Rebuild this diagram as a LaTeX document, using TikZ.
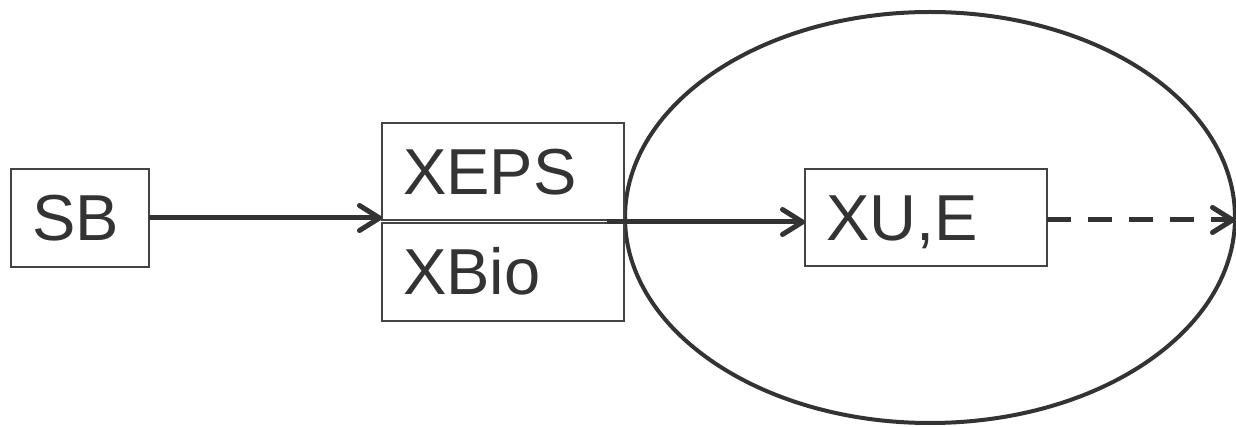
\documentclass[tikz,border=0pt]{standalone}
\usepackage{fontspec}
\setmainfont{Liberation Sans}
\usetikzlibrary{arrows.meta,shapes.geometric}
\definecolor{ink}{HTML}{333333}
\definecolor{frame}{HTML}{444444}
\tikzset{
  labelbox/.style={draw=frame, line width=1.3pt, rectangle, anchor=north west,
    outer sep=0pt, inner xsep=21pt, inner ysep=0pt, align=left,
    text width=#1, text height=46pt, text depth=0pt, text=ink,
    font=\fontsize{65}{65}\selectfont},
  barb/.style={-{Straight Barb[length=20pt,width=25pt,line cap=round,line join=round]}},
  flow/.style={draw=ink, line width=5pt, barb},
  flowdash/.style={flow, dash pattern=on 24pt off 17pt},
}
\begin{document}
\begin{tikzpicture}[x=1pt,y=-1pt]
  \useasboundingbox (0,0) rectangle (1236,427);
  \fill[white] (0,0) rectangle (1236,427);

  % the boundary ellipse
  \node[ellipse, draw=ink, line width=4pt, inner sep=0pt,
        minimum width=610pt, minimum height=411pt] (region) at (930,217.5) {};

  % boxes
  \node[labelbox=96pt,  minimum height=98pt] (SB)   at (11,169)  {SB};
  \node[labelbox=200pt, minimum height=97pt] (XEPS) at (382,123) {XEPS};
  \node[labelbox=200pt, minimum height=98pt] (XBio) at (382,223) {XBio};
  \node[labelbox=200pt, minimum height=97pt] (XUE)  at (805,169) {XU,E};

  % connectors
  \coordinate (split) at (607,222);
  \coordinate (out) at (1235,220);
  \draw[flow] (SB.east) -- (SB.east -| XEPS.west);
  \draw[flow] (split) -- (split -| XUE.west);
  \draw[flowdash] (XUE.east |- out) -- (out);
\end{tikzpicture}
\end{document}
